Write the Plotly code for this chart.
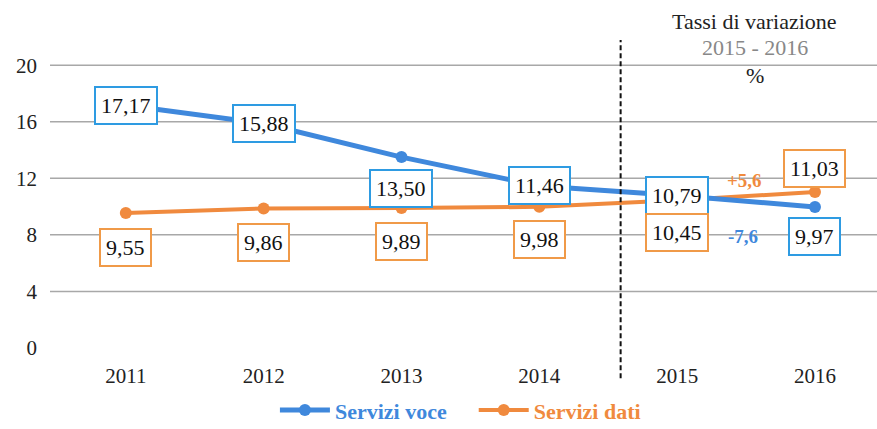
import plotly.graph_objects as go

YEARS = ["2011", "2012", "2013", "2014", "2015", "2016"]
VOCE = [17.17, 15.88, 13.50, 11.46, 10.79, 9.97]
DATI = [9.55, 9.86, 9.89, 9.98, 10.45, 11.03]
VAR_VOCE = -7.6
VAR_DATI = 5.6
Y_TICKS = [0, 4, 8, 12, 16, 20]

BLUE = "#3F88DC"
BLUE_BOX = "#2E9BE2"
ORANGE = "#F08A3E"
ORANGE_BOX = "#F09A48"
FONT = "Liberation Serif"

# vertical offset of each value box (px) relative to its point
VOCE_SHIFT = [0, 0, -31, 0, 0, -30]
DATI_SHIFT = [-35, -34, -33, -33, -32, 24]


def fmt(v, signed=False):
    s = f"{v:+.1f}" if signed else f"{v:.2f}"
    return s.replace(".", ",")


fig = go.Figure()
fig.add_trace(go.Scatter(
    x=YEARS, y=DATI, mode="lines+markers",
    name=f"<b><span style='color:{ORANGE}'>Servizi dati</span></b>",
    line=dict(color=ORANGE, width=4), marker=dict(size=12, color=ORANGE),
))
fig.add_trace(go.Scatter(
    x=YEARS, y=VOCE, mode="lines+markers",
    name=f"<b><span style='color:{BLUE}'>Servizi voce</span></b>&nbsp;&nbsp;&nbsp;&nbsp;",
    line=dict(color=BLUE, width=5), marker=dict(size=12, color=BLUE),
))

# category axis: annotations addressed by index
for i, (v, dy) in enumerate(zip(VOCE, VOCE_SHIFT)):
    fig.add_annotation(x=i, y=v, yshift=dy, text=fmt(v), showarrow=False,
                       font=dict(family=FONT, size=22, color="#111"),
                       bgcolor="white", bordercolor=BLUE_BOX, borderwidth=2, borderpad=5)
for i, (v, dy) in enumerate(zip(DATI, DATI_SHIFT)):
    fig.add_annotation(x=i, y=v, yshift=dy, text=fmt(v), showarrow=False,
                       font=dict(family=FONT, size=22, color="#111"),
                       bgcolor="white", bordercolor=ORANGE_BOX, borderwidth=2, borderpad=5)

fig.add_annotation(x=4.49, y=11.87, text=f"<b>{fmt(VAR_DATI, True)}</b>", showarrow=False,
                   font=dict(family=FONT, size=19, color=ORANGE))
fig.add_annotation(x=4.48, y=7.9, text=f"<b>{fmt(VAR_VOCE, True)}</b>", showarrow=False,
                   font=dict(family=FONT, size=19, color=BLUE))

for txt, yy, col in [("Tassi di variazione", 1.071, "#222"),
                     ("2015 - 2016", 0.99, "#888"),
                     ("%", 0.90, "#222")]:
    fig.add_annotation(xref="paper", yref="paper", x=0.852, y=yy, text=txt,
                       xanchor="center", yanchor="middle", showarrow=False,
                       font=dict(family=FONT, size=22, color=col))

for t in Y_TICKS[1:]:
    fig.add_hline(y=t, line=dict(color="#A8A8A8", width=1.5), layer="below")

fig.add_shape(type="line", xref="x", yref="paper", x0=3.59, x1=3.59, y0=-0.075, y1=1.013,
              line=dict(color="#111", width=2, dash="5px,3px"))

fig.update_layout(
    width=877, height=429,
    margin=dict(l=50, r=0, t=44, b=74),
    paper_bgcolor="white", plot_bgcolor="white",
    font=dict(family=FONT, size=20, color="#222"),
    showlegend=True,
    legend=dict(orientation="h", x=0.525, xanchor="center", xref="container",
                y=0.044, yanchor="middle", yref="container",
                traceorder="reversed", font=dict(family=FONT, size=22), itemwidth=50),
    xaxis=dict(type="category", range=[-0.55, 5.45], showgrid=False, zeroline=False,
               showline=False, tickfont=dict(size=21), automargin=False,
               ticklabelstandoff=6),
    yaxis=dict(range=[-0.5, 21.5], tickvals=Y_TICKS, showgrid=False, zeroline=False,
               showline=False, tickfont=dict(size=21), ticklabelstandoff=12,
               automargin=False),
)

fig.write_html("out.html", config={"displayModeBar": False},
               post_script="document.body.style.margin='0';")
